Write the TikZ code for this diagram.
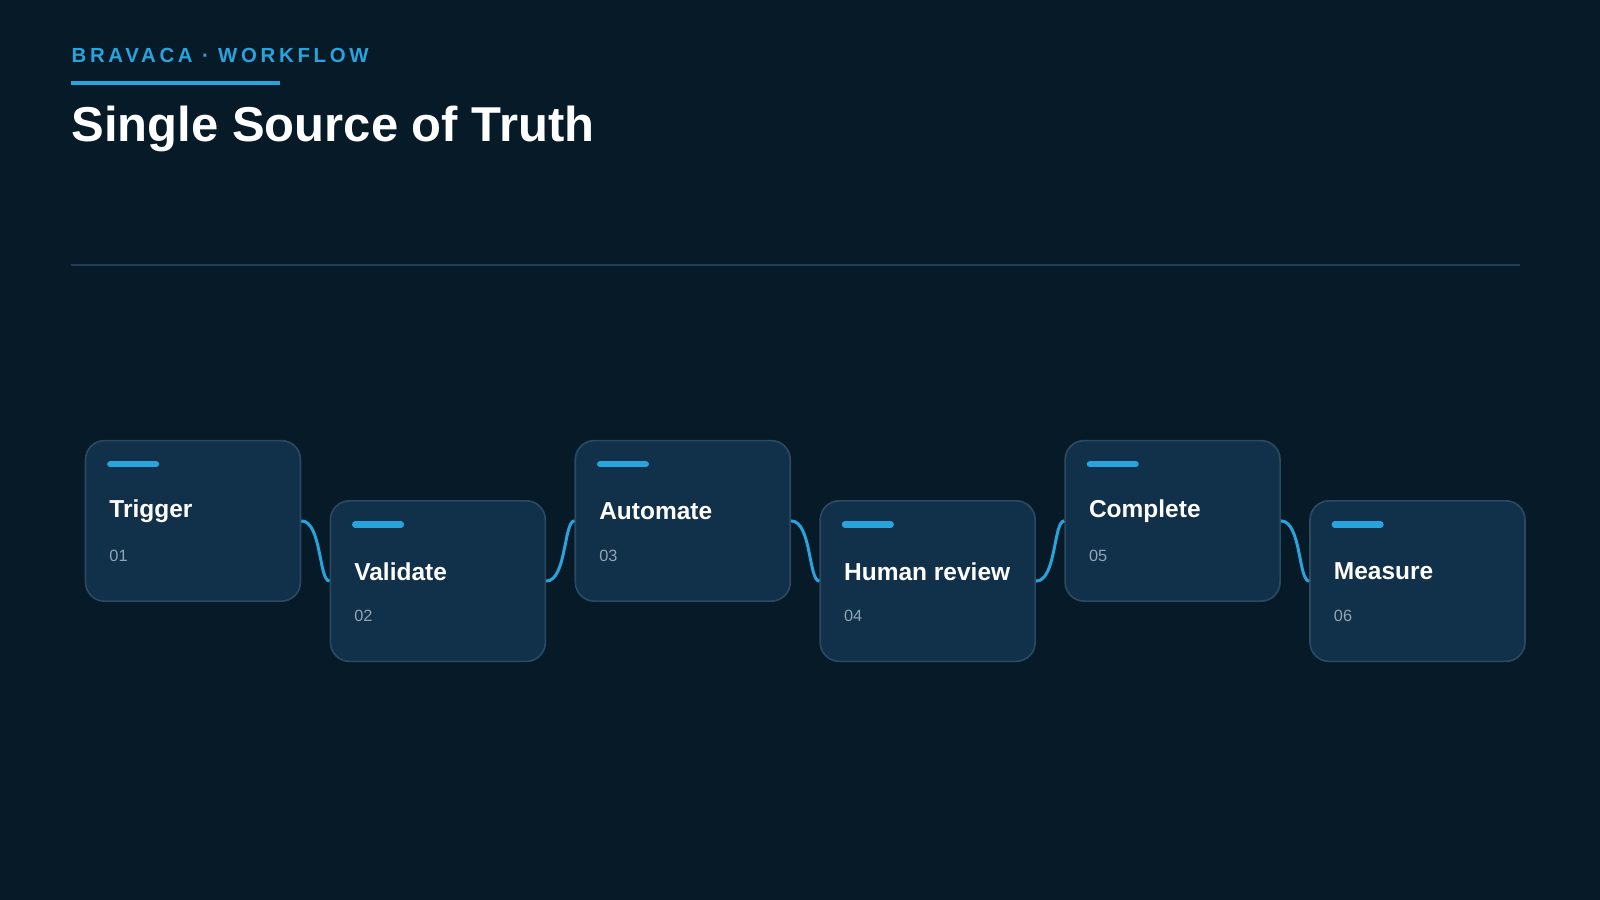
\documentclass[tikz,border=0pt]{standalone}
\usepackage{fontspec}
\setmainfont{Liberation Sans}
\definecolor{bg}{HTML}{071A28}
\definecolor{card}{HTML}{11304A}
\definecolor{cardb}{HTML}{2A4A62}
\definecolor{accent}{HTML}{29A3DC}
\definecolor{num}{HTML}{8FA5B8}
\definecolor{rule}{HTML}{1F3D55}
\begin{document}
\begin{tikzpicture}[x=0.75pt,y=-0.75pt,
  card/.style={draw=cardb,line width=1.2pt,fill=card,rounded corners=14pt,minimum width=158pt,minimum height=118pt,anchor=north west,inner sep=0pt},
  bar/.style={accent,line width=4.5pt,line cap=round},
  ttl/.style={anchor=west,text=white,font=\bfseries\fontsize{18}{20}\selectfont,inner sep=0pt},
  nm/.style={anchor=west,text=num,font=\fontsize{12}{14}\selectfont,inner sep=0pt},
  conn/.style={accent,line width=2.2pt}]
\fill[bg] (0,0) rectangle (1568,882);
\useasboundingbox (0,0) rectangle (1568,882);
\node[anchor=west,inner sep=0pt,text=accent,font=\bfseries\fontsize{15}{18}\selectfont\addfontfeatures{LetterSpace=18}] (hdr) at (70,54) {BRAVACA · WORKFLOW};
\draw[accent,line width=3pt] (70,81) -- (274,81);
\node[anchor=west,inner sep=0pt,text=white,font=\bfseries\fontsize{36}{40}\selectfont] (title) at (70,126) {Single Source of Truth};
\draw[rule,line width=1.5pt] (70,260) -- (1490,260);
\foreach \i/\x/\y/\t in {1/83/431/Trigger,2/323/490/Validate,3/563/431/Automate,4/803/490/Human review,5/1043/431/Complete,6/1283/490/Measure}{
  \node[card] (c\i) at (\x,\y) {};
  \draw[bar] (\x+25,\y+24) -- (\x+70,\y+24);
  \node[ttl] (t\i) at (\x+24,\y+70) {\t};
  \node[nm] (n\i) at (\x+24,\y+114) {0\i};
}
\draw[conn] (c1.east) .. controls ([xshift=15]c1.east) and ([xshift=-8]c2.west) .. (c2.west);
\draw[conn] (c2.east) .. controls ([xshift=15]c2.east) and ([xshift=-8]c3.west) .. (c3.west);
\draw[conn] (c3.east) .. controls ([xshift=15]c3.east) and ([xshift=-8]c4.west) .. (c4.west);
\draw[conn] (c4.east) .. controls ([xshift=15]c4.east) and ([xshift=-8]c5.west) .. (c5.west);
\draw[conn] (c5.east) .. controls ([xshift=15]c5.east) and ([xshift=-8]c6.west) .. (c6.west);
\end{tikzpicture}
\end{document}
